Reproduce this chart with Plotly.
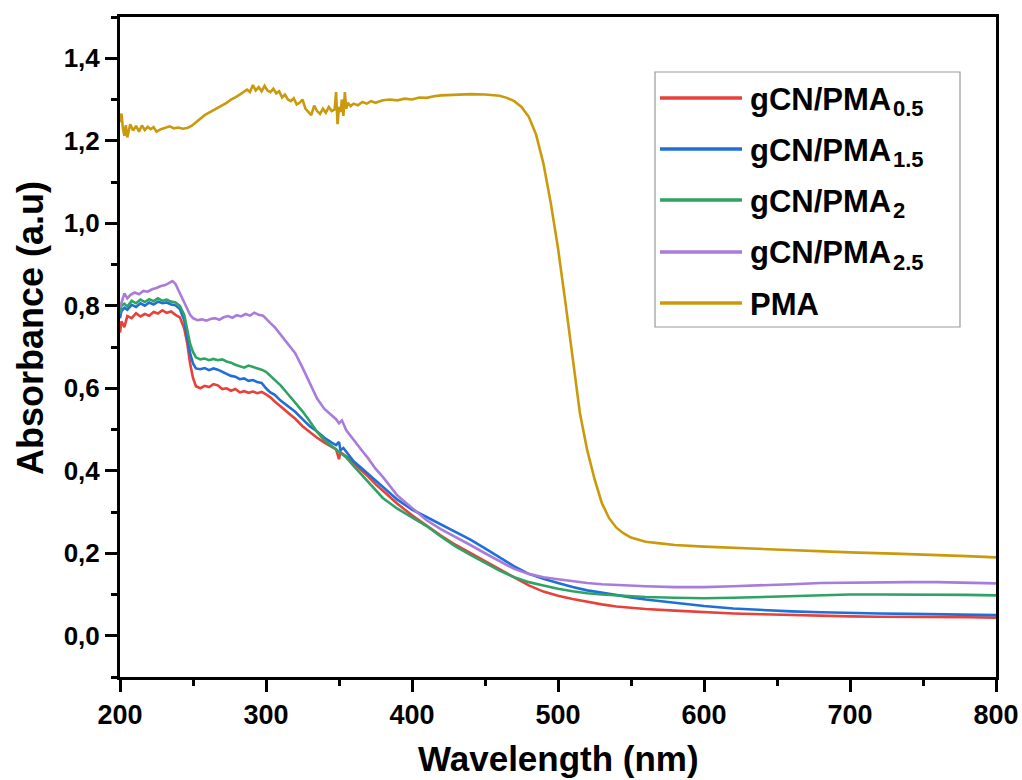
import plotly.graph_objects as go

# ---------------- data ----------------
red_wl = [200, 201, 203, 205, 208, 211, 214, 217, 220, 223, 226, 229, 232, 235, 238, 241, 244, 246, 248, 250,
          252, 255, 258, 261, 264, 267, 270, 273, 276, 279, 282, 285, 288, 291, 294, 297, 300, 303, 306, 310,
          315, 320, 325, 330, 335, 340, 345, 348, 350, 351, 353, 356, 360, 365, 370, 375, 380, 390, 400, 410,
          420, 430, 440, 450, 460, 470, 480, 490, 500, 510, 520, 530, 540, 550, 560, 580, 600, 620, 640, 660,
          680, 700, 720, 740, 760, 780, 800]
red_abs = [0.735, 0.762, 0.748, 0.775, 0.770, 0.782, 0.774, 0.780, 0.776, 0.785, 0.781, 0.789, 0.783, 0.786, 0.778,
           0.772, 0.745, 0.710, 0.660, 0.625, 0.605, 0.600, 0.606, 0.603, 0.610, 0.607, 0.598, 0.600, 0.594, 0.598,
           0.590, 0.593, 0.589, 0.592, 0.588, 0.591, 0.585, 0.578, 0.568, 0.556, 0.540, 0.526, 0.508, 0.493, 0.480,
           0.468, 0.457, 0.452, 0.428, 0.445, 0.440, 0.432, 0.418, 0.403, 0.386, 0.368, 0.352, 0.320, 0.292, 0.266,
           0.242, 0.220, 0.200, 0.182, 0.160, 0.140, 0.122, 0.107, 0.097, 0.089, 0.082, 0.076, 0.071, 0.068, 0.065,
           0.061, 0.057, 0.054, 0.052, 0.050, 0.048, 0.047, 0.046, 0.046, 0.045, 0.045, 0.044]

blue_wl = red_wl
blue_abs = [0.770, 0.787, 0.795, 0.790, 0.802, 0.797, 0.806, 0.800, 0.808, 0.803, 0.810, 0.806, 0.808, 0.803, 0.801,
            0.792, 0.765, 0.725, 0.685, 0.660, 0.648, 0.646, 0.649, 0.644, 0.648, 0.645, 0.640, 0.636, 0.630, 0.628,
            0.622, 0.624, 0.618, 0.620, 0.615, 0.613, 0.600, 0.590, 0.584, 0.570, 0.556, 0.543, 0.525, 0.508, 0.495,
            0.480, 0.468, 0.462, 0.470, 0.450, 0.455, 0.440, 0.423, 0.408, 0.392, 0.376, 0.360, 0.330, 0.306, 0.288,
            0.270, 0.252, 0.233, 0.212, 0.190, 0.168, 0.150, 0.138, 0.128, 0.118, 0.110, 0.104, 0.098, 0.093, 0.088,
            0.080, 0.072, 0.066, 0.062, 0.059, 0.057, 0.055, 0.054, 0.053, 0.052, 0.051, 0.050]

green_wl = [200, 201, 203, 205, 208, 211, 214, 217, 220, 223, 226, 229, 232, 235, 238, 241, 244, 246, 248, 250,
            252, 255, 258, 261, 264, 267, 270, 273, 276, 279, 282, 285, 288, 291, 294, 297, 300, 303, 306, 310,
            315, 320, 325, 330, 335, 340, 345, 350, 355, 360, 365, 370, 375, 380, 390, 400, 410, 420, 430, 440,
            450, 460, 470, 480, 490, 500, 510, 520, 530, 540, 550, 560, 580, 600, 620, 640, 660, 680, 700, 720,
            740, 760, 780, 800]
green_abs = [0.780, 0.800, 0.805, 0.798, 0.812, 0.806, 0.815, 0.809, 0.816, 0.811, 0.818, 0.812, 0.815, 0.810, 0.808,
             0.800, 0.778, 0.745, 0.708, 0.688, 0.675, 0.670, 0.672, 0.668, 0.671, 0.668, 0.670, 0.665, 0.662, 0.657,
             0.653, 0.650, 0.655, 0.652, 0.648, 0.645, 0.640, 0.630, 0.620, 0.607, 0.586, 0.566, 0.544, 0.520, 0.494,
             0.474, 0.460, 0.446, 0.432, 0.412, 0.392, 0.372, 0.352, 0.334, 0.308, 0.288, 0.266, 0.240, 0.216, 0.196,
             0.176, 0.158, 0.142, 0.130, 0.122, 0.114, 0.108, 0.103, 0.100, 0.098, 0.096, 0.094, 0.092, 0.091, 0.092,
             0.094, 0.097, 0.099, 0.100, 0.100, 0.100, 0.099, 0.099, 0.098]

purple_wl = [200, 201, 202, 203, 205, 207, 210, 213, 216, 219, 222, 225, 228, 231, 234, 236, 238, 240, 242, 244,
             246, 248, 250, 253, 256, 259, 262, 265, 268, 271, 274, 277, 280, 283, 286, 289, 292, 295, 298, 300,
             303, 306, 310, 315, 320, 325, 330, 335, 340, 345, 348, 350, 352, 355, 360, 365, 370, 375, 380, 390,
             400, 410, 420, 430, 440, 450, 460, 470, 480, 490, 500, 510, 520, 530, 540, 550, 560, 580, 600, 620,
             640, 660, 680, 700, 720, 740, 760, 780, 800]
purple_abs = [0.795, 0.808, 0.815, 0.830, 0.818, 0.826, 0.832, 0.828, 0.836, 0.834, 0.840, 0.843, 0.848, 0.850, 0.856,
              0.860, 0.853, 0.838, 0.820, 0.805, 0.790, 0.778, 0.770, 0.765, 0.767, 0.764, 0.768, 0.770, 0.766, 0.772,
              0.775, 0.771, 0.777, 0.774, 0.780, 0.776, 0.783, 0.778, 0.776, 0.768, 0.758, 0.748, 0.730, 0.705, 0.685,
              0.650, 0.612, 0.575, 0.550, 0.535, 0.525, 0.515, 0.522, 0.498, 0.474, 0.452, 0.430, 0.405, 0.385, 0.340,
              0.310, 0.280, 0.258, 0.240, 0.220, 0.200, 0.180, 0.162, 0.150, 0.142, 0.137, 0.132, 0.128, 0.125, 0.123,
              0.122, 0.120, 0.118, 0.118, 0.120, 0.122, 0.125, 0.128, 0.129, 0.130, 0.130, 0.130, 0.129, 0.127]

pma_wl = [200, 201, 202, 203, 204, 205, 207, 209, 211, 213, 215, 217, 219, 221, 223, 225, 228, 231, 234, 237,
          240, 243, 246, 249, 252, 255, 258, 261, 264, 267, 270, 273, 276, 279, 282, 285, 287, 289, 291, 293,
          295, 297, 299, 301, 303, 305, 307, 309, 311, 313, 315, 317, 319, 321, 323, 325, 327, 329, 331, 333,
          335, 337, 339, 341, 343, 345, 347, 348, 349, 350, 351, 352, 353, 354, 355, 356, 358, 360, 363, 366,
          369, 372, 375, 380, 385, 390, 395, 400, 405, 410, 415, 420, 430, 440, 450, 455, 460, 465, 470, 475,
          480, 485, 490, 495, 500, 505, 510, 515, 520, 525, 530, 535, 540, 545, 550, 560, 570, 580, 600, 620,
          650, 680, 700, 730, 760, 780, 800]
pma_abs = [1.245, 1.266, 1.230, 1.212, 1.238, 1.208, 1.240, 1.225, 1.236, 1.222, 1.237, 1.226, 1.234, 1.228, 1.233,
           1.222, 1.228, 1.232, 1.235, 1.230, 1.232, 1.229, 1.231, 1.236, 1.245, 1.255, 1.262, 1.268, 1.274, 1.280,
           1.285, 1.292, 1.300, 1.305, 1.312, 1.318, 1.324, 1.318, 1.335, 1.322, 1.330, 1.320, 1.333, 1.322, 1.318,
           1.326, 1.315, 1.320, 1.305, 1.312, 1.300, 1.296, 1.303, 1.288, 1.292, 1.300, 1.278, 1.270, 1.262, 1.285,
           1.272, 1.265, 1.278, 1.268, 1.282, 1.272, 1.276, 1.318, 1.240, 1.282, 1.270, 1.300, 1.260, 1.318, 1.278,
           1.292, 1.284, 1.290, 1.286, 1.294, 1.290, 1.296, 1.292, 1.298, 1.300, 1.298, 1.302, 1.300, 1.305, 1.304,
           1.308, 1.310, 1.311, 1.313, 1.312, 1.311, 1.309, 1.304, 1.296, 1.282, 1.258, 1.215, 1.145, 1.050, 0.940,
           0.810, 0.670, 0.540, 0.450, 0.380, 0.322, 0.285, 0.262, 0.248, 0.238, 0.228, 0.224, 0.220, 0.216, 0.213,
           0.208, 0.204, 0.202, 0.199, 0.196, 0.193, 0.190]

series_base = ["gCN/PMA", "gCN/PMA", "gCN/PMA", "gCN/PMA", "PMA"]
series_sub = ["0.5", "1.5", "2", "2.5", ""]
series_x = [red_wl, blue_wl, green_wl, purple_wl, pma_wl]
series_y = [red_abs, blue_abs, green_abs, purple_abs, pma_abs]
series_colors = ["#E8413C", "#1F6FD8", "#2FA364", "#A97BDB", "#CB9A0C"]

y_tickvals = [0.0, 0.2, 0.4, 0.6, 0.8, 1.0, 1.2, 1.4]
y_ticktext = ["0,0", "0,2", "0,4", "0,6", "0,8", "1,0", "1,2", "1,4"]
x_tickvals = [200, 300, 400, 500, 600, 700, 800]

# ---------------- figure ----------------
W, H = 1022, 780
ML, MR, MT, MB = 120, 26, 17, 103
PW, PH = W - ML - MR, H - MT - MB

def px2paper_x(px):
    return (px - ML) / PW

def px2paper_y(py):
    return (H - MB - py) / PH

fig = go.Figure()
for base, sub, xs, ys, col in zip(series_base, series_sub, series_x, series_y, series_colors):
    nm = base + (f"<sub>{sub}</sub>" if sub else "")
    fig.add_trace(go.Scatter(x=xs, y=ys, mode="lines", name=nm,
                             line=dict(color=col, width=2.6), showlegend=False))

FONT = "Liberation Sans, Arial, sans-serif"

fig.update_layout(
    width=W, height=H,
    margin=dict(l=ML, r=MR, t=MT, b=MB),
    paper_bgcolor="white", plot_bgcolor="white",
    font=dict(family=FONT, color="black"),
)

fig.update_xaxes(
    range=[200, 800], tickvals=x_tickvals, ticks="outside", ticklen=12, tickwidth=3,
    tickcolor="black", showline=True, linecolor="black", linewidth=3, mirror=True,
    showgrid=False, zeroline=False, automargin=False,
    tickfont=dict(family=FONT, size=27, weight="bold", color="black"),
    minor=dict(dtick=50, ticks="outside", ticklen=6, tickwidth=3, tickcolor="black", showgrid=False),
)
fig.update_yaxes(
    range=[-0.1, 1.5], tickvals=y_tickvals, ticktext=y_ticktext, ticks="outside", ticklen=12,
    tickwidth=3, tickcolor="black", showline=True, linecolor="black", linewidth=3, mirror=True,
    showgrid=False, zeroline=False, automargin=False,
    tickfont=dict(family=FONT, size=26, weight="bold", color="black"),
    minor=dict(dtick=0.1, ticks="outside", ticklen=6, tickwidth=3, tickcolor="black", showgrid=False),
)

annotations = []
# axis titles
annotations.append(dict(text="Wavelength (nm)", xref="paper", yref="paper",
                        x=px2paper_x(558), y=px2paper_y(758), xanchor="center", yanchor="middle",
                        showarrow=False, font=dict(family=FONT, size=35, weight="bold", color="black")))
annotations.append(dict(text="Absorbance (a.u)", xref="paper", yref="paper", textangle=-90,
                        x=px2paper_x(30), y=px2paper_y(328), xanchor="center", yanchor="middle",
                        showarrow=False, font=dict(family=FONT, size=36, weight="bold", color="black")))

# legend (manual, to match long line samples)
LEG_SIZE = 31
SUB_SIZE = 22
shapes = [dict(type="rect", xref="paper", yref="paper",
               x0=px2paper_x(655), x1=px2paper_x(960), y0=px2paper_y(72), y1=px2paper_y(327),
               line=dict(color="#9a9a9a", width=1.2), fillcolor="white", layer="above")]
leg_y = [98, 149, 200, 252, 303]
# width of "gCN/PMA" in Liberation Sans Bold (em units)
base_em = {"gCN/PMA": 4.555, "PMA": 2.222}
for base, sub, col, ly in zip(series_base, series_sub, series_colors, leg_y):
    shapes.append(dict(type="line", xref="paper", yref="paper",
                       x0=px2paper_x(660), x1=px2paper_x(742), y0=px2paper_y(ly), y1=px2paper_y(ly),
                       line=dict(color=col, width=3.5), layer="above"))
    annotations.append(dict(text=base, xref="paper", yref="paper", borderpad=0,
                            x=px2paper_x(749), y=px2paper_y(ly + 1), xanchor="left", yanchor="middle",
                            showarrow=False, font=dict(family=FONT, size=LEG_SIZE, weight="bold", color="black")))
    if sub:
        sx = 749 + 2 + base_em[base] * LEG_SIZE
        annotations.append(dict(text=sub, xref="paper", yref="paper", borderpad=0,
                                x=px2paper_x(sx), y=px2paper_y(ly + 10), xanchor="left", yanchor="middle",
                                showarrow=False,
                                font=dict(family=FONT, size=SUB_SIZE, weight="bold", color="black")))

fig.update_layout(annotations=annotations, shapes=shapes)

fig.write_html("out.html")
